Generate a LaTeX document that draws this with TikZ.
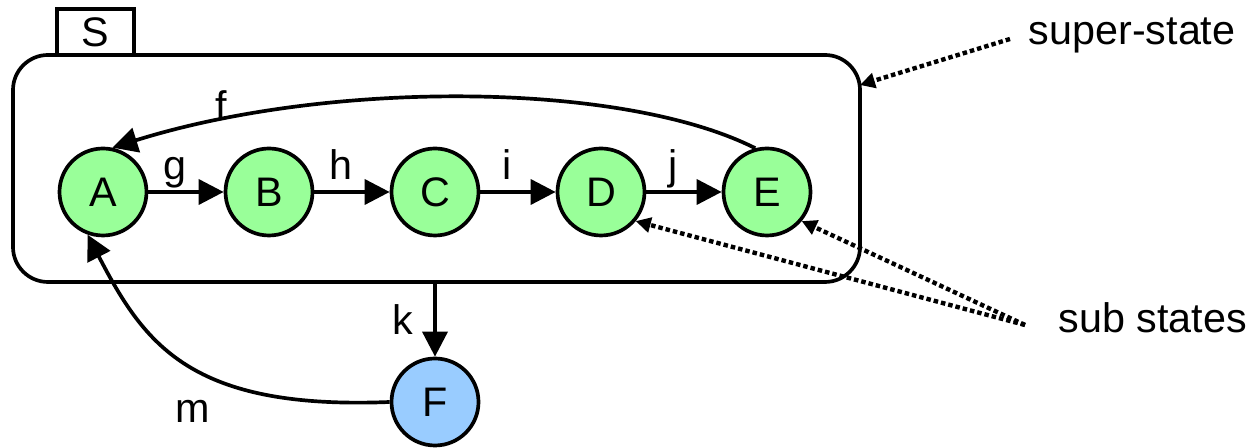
\documentclass[tikz,border=0pt]{standalone}
\usepackage{fontspec}
\setmainfont{Liberation Sans}
\usepackage{xcolor}
\usetikzlibrary{arrows.meta}

\definecolor{subgreen}{RGB}{153,255,153}
\definecolor{fblue}{RGB}{153,204,255}

\tikzset{
	every node/.style = {font=\fontsize{23.5}{28}\selectfont},
	superbox/.style = {draw, rounded corners=0.7cm, outer sep=0pt, inner sep=0pt},
	tabbox/.style = {draw, fill=white, outer sep=0pt, inner sep=0pt},
	substate/.style = {circle, draw, fill=subgreen, minimum size=1.74cm, inner sep=0pt},
	trans/.style = {-{Triangle[length=0.5cm, width=0.5cm]}},
	edgetext/.style = {anchor=base, yshift=0.24cm, inner sep=0pt},
	note/.style = {anchor=base west, inner sep=0pt},
	pointer/.style = {line width=2.5pt, dash pattern=on 0.09cm off 0.06cm, -{Triangle[length=0.3cm, width=0.3cm]}}
}

\begin{document}
\begin{tikzpicture}[line width=2.1pt]
	\def\W{25.08};
	\def\H{8.96};
	\def\dx{3.32};
	\def\yRow{5.12};

	\useasboundingbox (0,0) rectangle (\W,\H);

	\node [superbox, minimum width=16.94cm, minimum height=4.54cm] (S) at (8.73,5.59) {};
	\node [tabbox, anchor=south west, minimum width=1.54cm, minimum height=0.92cm] (tab) at ([xshift=0.88cm]S.north west) {S};

	\foreach \n [count=\i] in {A,B,C,D,E}
		\node [substate] (\n) at ({2.06+\dx*(\i-1)},\yRow) {\n};
	\node [substate, fill=fblue] (F) at (8.70,0.92) {F};

	\foreach \a/\b/\t in {A/B/g, B/C/h, C/D/i, D/E/j}
		\draw [trans] (\a) -- node [edgetext, pos=0.36] {\t} (\b);

	\draw [trans] (E.105) .. controls +(-2.66,1.34) and +(4.34,1.36) .. node [pos=0.84, anchor=base, inner sep=0pt] {f} (A.78);
	\draw [trans] (F |- S.south) -- node [midway, left=0.4cm, inner sep=0pt] {k} (F);
	\draw [trans] (F.west) .. controls +(-3.98,-0.16) and +(1.14,-2.2) .. node [pos=0.35, anchor=base, inner sep=0pt, xshift=-0.74cm, yshift=-0.76cm] {m} (A.250);

	\begin{scope}
		\node [note] (sup) at (20.54,8.06) {super-state};
		\node [note] (sub) at (21.14,2.30) {sub states};
		\coordinate (supfrom) at ([xshift=-0.34cm, yshift=0.12cm]sup.base west);
		\coordinate (subfrom) at ([xshift=-0.64cm, yshift=0.16cm]sub.base west);
		\draw [pointer] (supfrom) -- ([yshift=-0.6cm]S.north east);
		\draw [pointer] (subfrom) -- (D.-40);
		\draw [pointer] (subfrom) -- (E.-40);
	\end{scope}
\end{tikzpicture}
\end{document}
